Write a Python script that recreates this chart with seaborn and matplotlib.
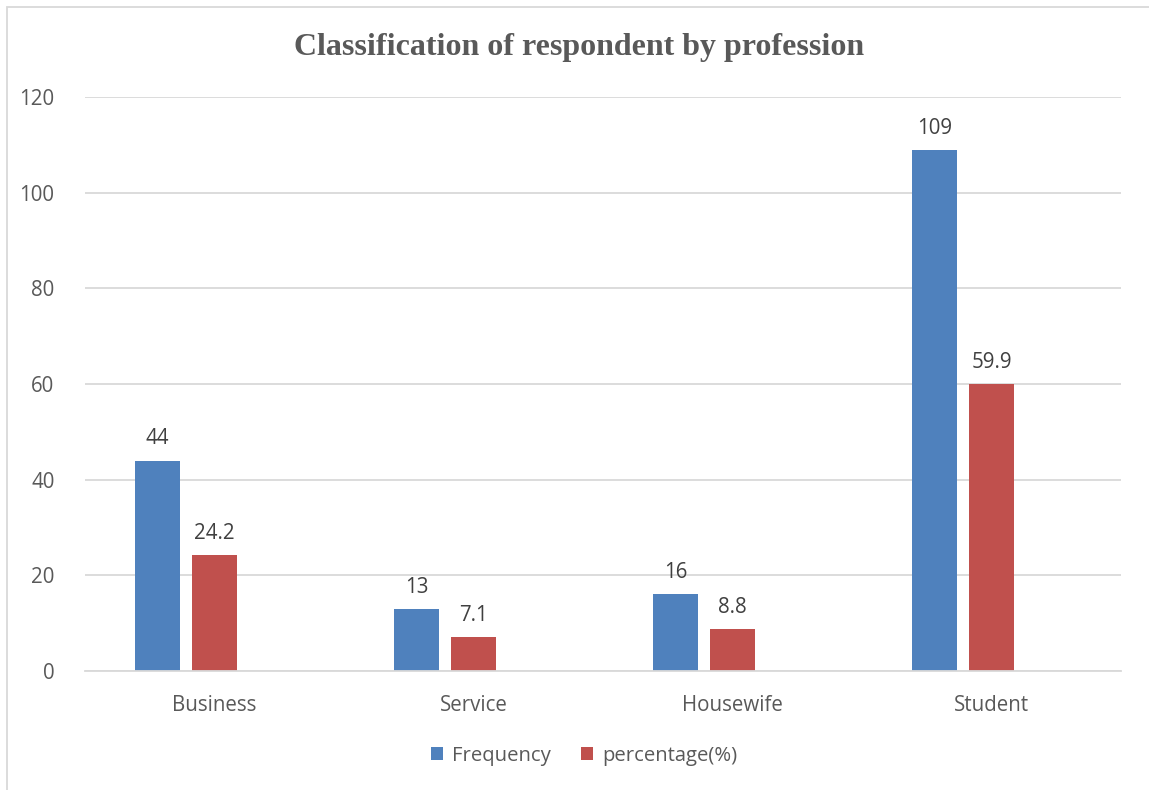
import matplotlib
matplotlib.use("Agg")
import matplotlib.pyplot as plt
from matplotlib.patches import Rectangle, Patch
import seaborn as sns
import pandas as pd

professions = ["Business", "Service", "Housewife", "Student"]
frequency = [44, 13, 16, 109]
percentage = [24.2, 7.1, 8.8, 59.9]
series_names = ["Frequency", "percentage(%)"]
series_colors = ["#4F81BD", "#C0504D"]
title = "Classification of respondent by profession"
y_ticks = [0, 20, 40, 60, 80, 100, 120]

df = pd.DataFrame({
    "Profession": professions * 2,
    "Series": [series_names[0]] * 4 + [series_names[1]] * 4,
    "Value": frequency + percentage,
})

sns.set_theme(style="white")
plt.rcParams["font.family"] = ["Open Sans", "DejaVu Sans"]

W, H, DPI = 1149, 790, 100
fig = plt.figure(figsize=(W / DPI, H / DPI), dpi=DPI)
fig.patch.set_facecolor("white")

# axes box in pixels: left 85, right 1121, y=0 at 671, y=120 at 97
left, right, bottom, top = 85, 1121, 671, 97
ax = fig.add_axes([left / W, 1 - bottom / H, (right - left) / W, (bottom - top) / H])

# a third, empty slot keeps the pair of bars offset to the left of each category centre
hue_levels = series_names + ["(blank)"]
palette = dict(zip(hue_levels, series_colors + ["white"]))
sns.barplot(data=df, x="Profession", y="Value", hue="Series", hue_order=hue_levels,
            palette=palette, width=0.661, gap=0.21, saturation=1, ax=ax,
            legend=False, linewidth=0, errorbar=None)

ax.set_ylim(0, 120)
ax.set_xlim(-0.5, 3.5)
ax.set_yticks(y_ticks)
ax.yaxis.grid(True, color="#d9d9d9", linewidth=1.3)
ax.set_axisbelow(True)
for s in ["left", "right", "top"]:
    ax.spines[s].set_visible(False)
ax.spines["bottom"].set_color("#d9d9d9")
ax.spines["bottom"].set_linewidth(1.3)
ax.set_xlabel("")
ax.set_ylabel("")
ax.tick_params(axis="both", length=0, labelsize=14.8, labelcolor="#595959")
ax.tick_params(axis="x", pad=17)
ax.tick_params(axis="y", pad=22)

for cont in ax.containers:
    ax.bar_label(cont, labels=[f"{v:g}" for v in cont.datavalues], padding=8,
                 fontsize=14.8, color="#404040")

fig.text(0.504, 1 - 48 / H, title, ha="center", va="center",
         fontsize=23, fontweight="bold", color="#595959", family="Liberation Serif")

handles = [Patch(facecolor=c, edgecolor="none") for c in series_colors]
fig.legend(handles, series_names, loc="center", bbox_to_anchor=(584 / W, 1 - 756 / H),
           ncol=2, frameon=False, fontsize=14.6, handlelength=0.6, handleheight=0.6,
           handletextpad=0.45, columnspacing=1.5, labelcolor="#595959")

# outer chart border
fig.patches.append(Rectangle((7 / W, -0.1), 1.2, 1 - 7 / H + 0.1, transform=fig.transFigure,
                             fill=False, edgecolor="#d9d9d9", linewidth=1.3))

fig.savefig("out.png", dpi=DPI)
